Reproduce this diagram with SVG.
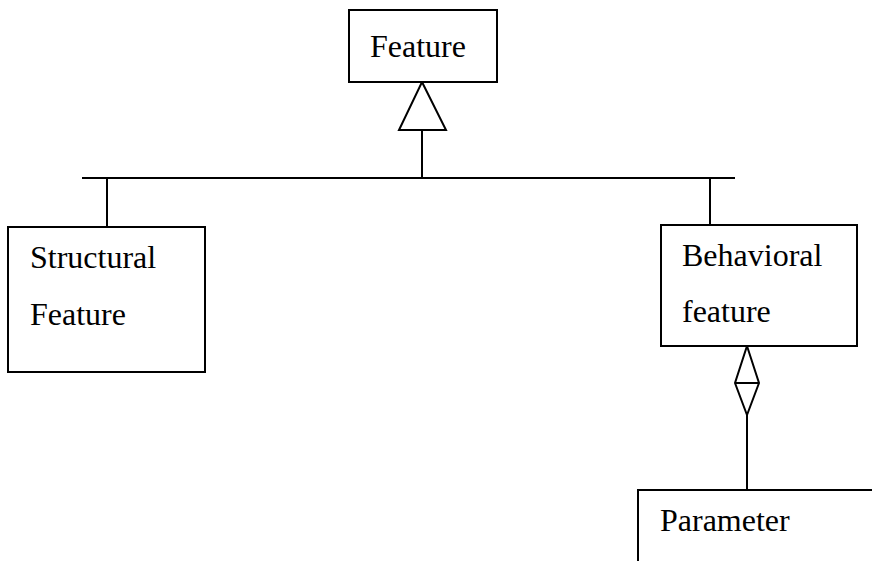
<svg xmlns="http://www.w3.org/2000/svg" width="872" height="561" viewBox="0 0 872 561">
  <style>
    .box { fill: #fff; stroke: #000; stroke-width: 2; }
    .line { fill: none; stroke: #000; stroke-width: 2; }
    .head { fill: #fff; stroke: #000; stroke-width: 2; stroke-linejoin: miter; }
    .label { font-family: 'Liberation Serif', 'Times New Roman', serif; font-size: 32px; fill: #000; }
  </style>
  <rect width="872" height="561" fill="#fff"/>

  <!-- connectors -->
  <g id="connectors">
    <!-- generalization tree -->
    <line class="line" x1="422" y1="130" x2="422" y2="178"/>
    <line class="line" x1="82" y1="178" x2="735" y2="178"/>
    <line class="line" x1="107" y1="178" x2="107" y2="227"/>
    <line class="line" x1="710" y1="178" x2="710" y2="225"/>
    <polygon class="head" points="422,82 446,130 399,130"/>
    <!-- aggregation to Parameter -->
    <line class="line" x1="747" y1="415" x2="747" y2="490"/>
    <polygon class="head" points="747,346 759,383 747,415 735,383"/>
    <line class="line" x1="735" y1="383" x2="759" y2="383"/>
  </g>

  <g id="feature">
    <rect class="box" x="349" y="10" width="148" height="72"/>
    <text class="label" x="370" y="57">Feature</text>
  </g>

  <g id="structural-feature">
    <rect class="box" x="8" y="227" width="197" height="145"/>
    <text class="label" x="30" y="268">Structural</text>
    <text class="label" x="30" y="325">Feature</text>
  </g>

  <g id="behavioral-feature">
    <rect class="box" x="661" y="225" width="196" height="121"/>
    <text class="label" x="682" y="266">Behavioral</text>
    <text class="label" x="682" y="322">feature</text>
  </g>

  <g id="parameter">
    <rect class="box" x="638" y="490" width="240" height="80"/>
    <text class="label" x="660" y="531">Parameter</text>
  </g>
</svg>
